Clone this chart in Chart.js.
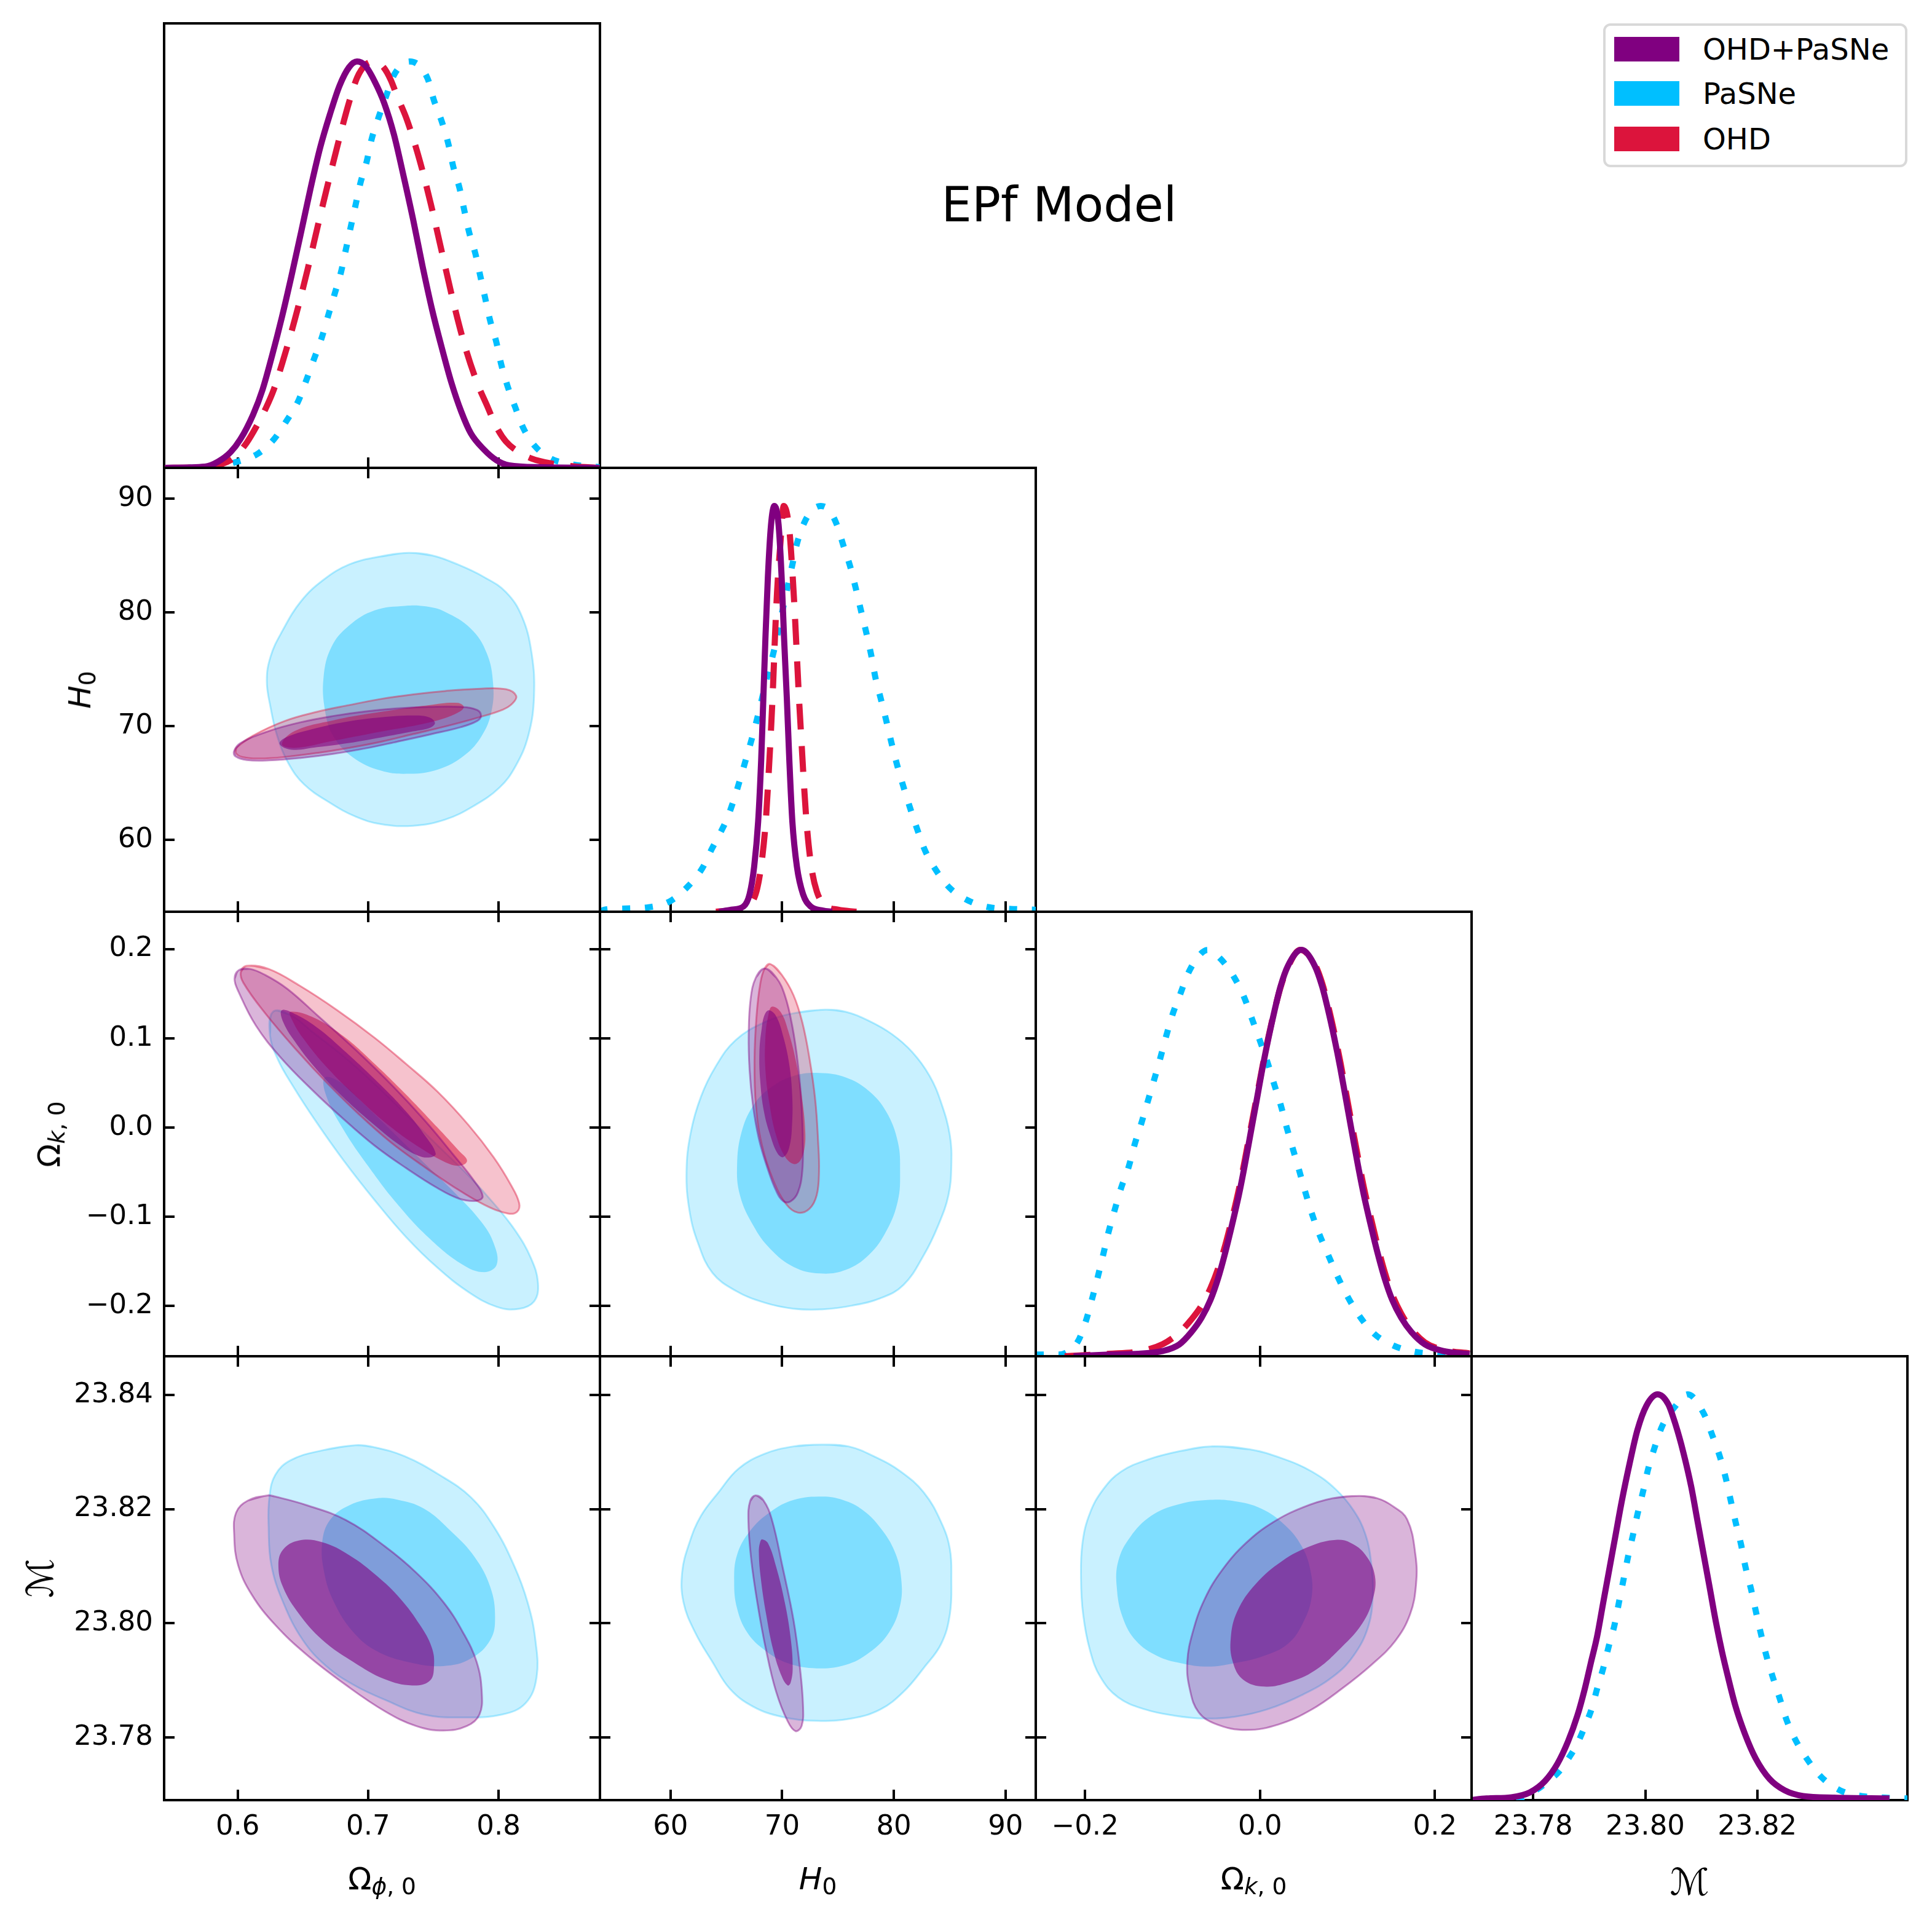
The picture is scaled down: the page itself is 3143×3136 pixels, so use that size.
<!DOCTYPE html>
<html>
<head>
<meta charset="utf-8">
<title>EPf Model</title>
<script src="https://cdn.jsdelivr.net/npm/chart.js@4.4.1/dist/chart.umd.min.js"></script>
<style>
html,body{margin:0;padding:0;background:#fff;}
#fig{position:relative;width:3143px;height:3136px;overflow:hidden;background:#fff;font-family:"DejaVu Sans",sans-serif;color:#000;}
#fig canvas{position:absolute;}
.lab{position:absolute;white-space:nowrap;line-height:1;font-size:50px;font-family:"DejaVu Sans",sans-serif;}
.lab sub{font-size:75%;vertical-align:baseline;position:relative;top:0.22em;line-height:0;}
.lab i{font-style:italic;}
.lab .cal{font-size:60px;font-family:"DejaVu Serif","DejaVu Sans",serif;font-style:italic;}
.rot{transform:translate(-50%,-50%) rotate(-90deg);}
.hor{transform:translateX(-50%);}
#title{position:absolute;font-size:78px;line-height:1;white-space:nowrap;transform:translateX(-50%);font-family:"DejaVu Sans",sans-serif;}
#legend{position:absolute;box-sizing:border-box;border:4px solid #d9d9d9;border-radius:12px;background:#fff;}
.li{position:absolute;left:14px;height:60px;display:flex;align-items:center;font-size:48px;line-height:1;white-space:nowrap;}
.li span.p{display:inline-block;width:106px;height:40px;margin-right:38px;}
</style>
</head>
<body>
<div id="fig"></div>
<script>
// ---------------- axis ranges and ticks ----------------
const phiRange = [0.5436, 0.8777];
const phiTicks = [0.6, 0.7, 0.8];
const phiTickLabels = ['0.6', '0.7', '0.8'];
const h0Range = [53.68, 92.71];
const h0Ticks = [60, 70, 80, 90];
const h0TickLabels = ['60', '70', '80', '90'];
const okRange = [-0.2563, 0.2419];
const okTicksX = [-0.2, 0.0, 0.2];
const okTickLabelsX = ['\u22120.2', '0.0', '0.2'];
const okTicksY = [-0.2, -0.1, 0.0, 0.1, 0.2];
const okTickLabelsY = ['\u22120.2', '\u22120.1', '0.0', '0.1', '0.2'];
const mRange = [23.7690, 23.8468];
const mTicksX = [23.78, 23.80, 23.82];
const mTickLabelsX = ['23.78', '23.80', '23.82'];
const mTicksY = [23.78, 23.80, 23.82, 23.84];
const mTickLabelsY = ['23.78', '23.80', '23.82', '23.84'];
const densRange = [0, 1.094];

// ---------------- series ----------------
const seriesNames = ['OHD+PaSNe', 'PaSNe', 'OHD'];
const seriesColors = ['#800080', '#00bfff', '#dc143c'];

// ---------------- 1D marginals (x, relative density) ----------------
const d1_phi_comb = [[0.5443,0.000],[0.5750,0.003],[0.5848,0.015],[0.5946,0.039],[0.6020,0.070],[0.6118,0.131],[0.6191,0.193],[0.6265,0.278],[0.6339,0.371],[0.6412,0.472],[0.6486,0.580],[0.6560,0.690],[0.6633,0.789],[0.6707,0.870],[0.6780,0.940],[0.6854,0.986],[0.6915,1.000],[0.6977,0.990],[0.7050,0.951],[0.7124,0.897],[0.7198,0.820],[0.7271,0.719],[0.7345,0.611],[0.7418,0.495],[0.7492,0.387],[0.7566,0.294],[0.7639,0.209],[0.7713,0.139],[0.7787,0.085],[0.7885,0.046],[0.7983,0.019],[0.8081,0.006],[0.8326,0.0015],[0.8773,0.000]];
const d1_phi_ohd = [[0.5443,0.000],[0.5750,0.002],[0.5872,0.009],[0.5971,0.025],[0.6069,0.062],[0.6142,0.101],[0.6216,0.147],[0.6277,0.193],[0.6339,0.255],[0.6437,0.364],[0.6535,0.487],[0.6621,0.605],[0.6707,0.719],[0.6805,0.843],[0.6854,0.900],[0.6915,0.960],[0.6980,0.992],[0.7050,1.000],[0.7120,0.985],[0.7173,0.955],[0.7222,0.915],[0.7296,0.858],[0.7394,0.758],[0.7480,0.650],[0.7566,0.530],[0.7652,0.410],[0.7737,0.305],[0.7836,0.209],[0.7909,0.155],[0.7983,0.101],[0.8056,0.065],[0.8155,0.039],[0.8253,0.023],[0.8400,0.011],[0.8572,0.004],[0.8773,0.000]];
const d1_phi_pasne = [[0.5443,0.000],[0.5750,0.001],[0.5872,0.004],[0.5995,0.015],[0.6155,0.035],[0.6277,0.070],[0.6375,0.116],[0.6461,0.162],[0.6523,0.213],[0.6584,0.267],[0.6645,0.321],[0.6694,0.375],[0.6744,0.429],[0.6793,0.483],[0.6829,0.537],[0.6866,0.592],[0.6903,0.646],[0.6940,0.700],[0.6989,0.754],[0.7026,0.808],[0.7075,0.858],[0.7136,0.913],[0.7198,0.967],[0.7320,1.000],[0.7455,0.959],[0.7504,0.905],[0.7566,0.851],[0.7615,0.797],[0.7652,0.742],[0.7701,0.688],[0.7737,0.634],[0.7774,0.580],[0.7823,0.526],[0.7860,0.472],[0.7897,0.418],[0.7934,0.364],[0.7983,0.309],[0.8020,0.255],[0.8069,0.201],[0.8130,0.147],[0.8191,0.097],[0.8277,0.054],[0.8400,0.023],[0.8572,0.008],[0.8773,0.002]];

const d1_h0_comb = [[64.35,0.000],[65.44,0.005],[66.54,0.013],[67.08,0.043],[67.49,0.111],[67.85,0.223],[68.12,0.374],[68.31,0.524],[68.50,0.674],[68.72,0.825],[69.00,0.953],[69.30,1.000],[69.68,0.953],[69.95,0.825],[70.17,0.674],[70.42,0.524],[70.64,0.374],[70.91,0.223],[71.32,0.111],[71.87,0.043],[72.55,0.013],[73.65,0.003],[74.47,0.000]];
const d1_h0_ohd = [[64.07,0.000],[66.26,0.007],[67.22,0.020],[67.77,0.058],[68.18,0.126],[68.53,0.223],[68.78,0.336],[69.00,0.449],[69.19,0.562],[69.35,0.674],[69.54,0.787],[69.82,0.900],[70.14,1.000],[70.63,0.944],[70.91,0.840],[71.13,0.735],[71.32,0.629],[71.51,0.524],[71.73,0.419],[71.95,0.314],[72.22,0.208],[72.61,0.111],[73.10,0.050],[73.78,0.017],[75.01,0.005],[76.65,0.000]];
const d1_h0_pasne = [[53.68,0.000],[54.09,0.005],[56.06,0.008],[58.06,0.011],[59.97,0.026],[61.61,0.064],[62.84,0.107],[63.72,0.156],[64.43,0.193],[65.09,0.231],[65.72,0.280],[66.26,0.329],[66.81,0.381],[67.36,0.434],[67.85,0.486],[68.31,0.539],[68.78,0.592],[69.27,0.644],[69.68,0.697],[70.09,0.750],[70.50,0.802],[70.91,0.855],[71.32,0.907],[72.00,0.960],[72.70,0.990],[73.45,1.000],[74.20,0.990],[74.88,0.955],[75.50,0.901],[76.11,0.849],[76.60,0.796],[77.06,0.742],[77.53,0.688],[77.97,0.633],[78.35,0.577],[78.84,0.524],[79.33,0.470],[79.80,0.415],[80.29,0.362],[80.84,0.310],[81.44,0.257],[82.07,0.205],[82.81,0.150],[83.76,0.103],[84.99,0.059],[86.63,0.028],[88.55,0.011],[90.46,0.007],[92.70,0.005]];

const d1_ok_comb = [[-0.2131,0.000],[-0.1723,0.004],[-0.1382,0.006],[-0.1110,0.013],[-0.0923,0.029],[-0.0786,0.059],[-0.0667,0.095],[-0.0565,0.139],[-0.0480,0.191],[-0.0395,0.257],[-0.0320,0.323],[-0.0242,0.396],[-0.0174,0.470],[-0.0106,0.550],[-0.0037,0.631],[0.0031,0.712],[0.0099,0.785],[0.0167,0.851],[0.0235,0.910],[0.0320,0.961],[0.0473,1.000],[0.0626,0.961],[0.0711,0.910],[0.0780,0.851],[0.0848,0.785],[0.0916,0.712],[0.0984,0.631],[0.1052,0.550],[0.1120,0.470],[0.1188,0.396],[0.1266,0.323],[0.1341,0.257],[0.1426,0.191],[0.1511,0.139],[0.1614,0.095],[0.1733,0.059],[0.1886,0.029],[0.2090,0.013],[0.2397,0.005]];
const d1_ok_ohd = [[-0.2233,0.000],[-0.1723,0.006],[-0.1382,0.012],[-0.1110,0.030],[-0.0923,0.058],[-0.0786,0.090],[-0.0667,0.125],[-0.0565,0.168],[-0.0480,0.215],[-0.0395,0.275],[-0.0320,0.338],[-0.0242,0.410],[-0.0174,0.482],[-0.0106,0.560],[-0.0037,0.638],[0.0031,0.716],[0.0099,0.788],[0.0167,0.852],[0.0235,0.908],[0.0320,0.958],[0.0460,1.000],[0.0626,0.965],[0.0711,0.918],[0.0780,0.862],[0.0848,0.798],[0.0916,0.727],[0.0984,0.648],[0.1052,0.568],[0.1120,0.490],[0.1188,0.415],[0.1266,0.342],[0.1341,0.275],[0.1426,0.207],[0.1511,0.152],[0.1614,0.105],[0.1733,0.066],[0.1886,0.034],[0.2090,0.016],[0.2397,0.007]];
const d1_ok_pasne = [[-0.2563,0.004],[-0.2301,0.004],[-0.2233,0.007],[-0.2080,0.037],[-0.1988,0.088],[-0.1917,0.143],[-0.1852,0.197],[-0.1791,0.251],[-0.1733,0.304],[-0.1661,0.360],[-0.1586,0.415],[-0.1501,0.466],[-0.1433,0.521],[-0.1358,0.572],[-0.1287,0.624],[-0.1212,0.679],[-0.1144,0.730],[-0.1076,0.785],[-0.1001,0.840],[-0.0912,0.891],[-0.0820,0.943],[-0.0684,0.989],[-0.0600,1.000],[-0.0446,0.977],[-0.0293,0.932],[-0.0174,0.880],[-0.0089,0.829],[-0.0003,0.778],[0.0082,0.726],[0.0160,0.671],[0.0235,0.620],[0.0303,0.565],[0.0371,0.514],[0.0446,0.459],[0.0514,0.407],[0.0592,0.352],[0.0677,0.301],[0.0780,0.249],[0.0892,0.194],[0.1001,0.147],[0.1137,0.099],[0.1307,0.055],[0.1529,0.026],[0.1767,0.011],[0.2005,0.006],[0.2329,0.004]];

const d1_m_comb = [[23.7688,0.000],[23.7717,0.004],[23.7761,0.007],[23.7794,0.019],[23.7821,0.047],[23.7843,0.089],[23.7862,0.144],[23.7879,0.209],[23.7892,0.274],[23.7903,0.339],[23.7914,0.403],[23.7925,0.487],[23.7936,0.570],[23.7947,0.653],[23.7958,0.736],[23.7972,0.829],[23.7986,0.912],[23.8002,0.972],[23.8022,1.000],[23.8041,0.976],[23.8054,0.926],[23.8068,0.857],[23.8082,0.773],[23.8093,0.690],[23.8104,0.607],[23.8115,0.524],[23.8126,0.440],[23.8137,0.366],[23.8148,0.302],[23.8161,0.232],[23.8178,0.163],[23.8197,0.103],[23.8222,0.052],[23.8249,0.024],[23.8282,0.010],[23.8337,0.006],[23.8436,0.004]];
const d1_m_pasne = [[23.7688,0.000],[23.7761,0.002],[23.7783,0.007],[23.7810,0.029],[23.7827,0.047],[23.7846,0.070],[23.7865,0.107],[23.7879,0.140],[23.7892,0.181],[23.7905,0.228],[23.7914,0.274],[23.7925,0.325],[23.7935,0.380],[23.7945,0.431],[23.7953,0.487],[23.7961,0.542],[23.7969,0.598],[23.7978,0.653],[23.7986,0.704],[23.7996,0.760],[23.8005,0.815],[23.8016,0.866],[23.8030,0.921],[23.8052,0.968],[23.8076,1.000],[23.8104,0.954],[23.8120,0.898],[23.8134,0.843],[23.8144,0.792],[23.8153,0.736],[23.8162,0.681],[23.8171,0.630],[23.8179,0.574],[23.8189,0.519],[23.8197,0.468],[23.8206,0.413],[23.8216,0.357],[23.8227,0.306],[23.8240,0.251],[23.8253,0.195],[23.8268,0.149],[23.8288,0.103],[23.8315,0.056],[23.8348,0.024],[23.8386,0.010],[23.8427,0.006],[23.8468,0.004]];

// ---------------- 2D contours (68% "in", 95% "out") ----------------
// Omega_phi vs H0
const c_phiH0_pasne_out = [[0.7308,85.23],[0.7075,84.88],[0.6854,84.21],[0.6658,82.87],[0.6486,80.99],[0.6339,78.30],[0.6253,76.15],[0.6223,74.00],[0.6253,71.58],[0.6302,69.17],[0.6388,66.75],[0.6510,64.87],[0.6707,63.26],[0.6903,62.05],[0.7099,61.38],[0.7345,61.24],[0.7590,61.78],[0.7811,62.99],[0.8007,64.60],[0.8130,66.48],[0.8228,69.17],[0.8272,72.66],[0.8253,76.42],[0.8179,79.64],[0.8056,81.79],[0.7885,83.13],[0.7688,84.21],[0.7492,85.01]];
const c_phiH0_pasne_in = [[0.7283,80.58],[0.7050,80.18],[0.6854,78.84],[0.6719,76.96],[0.6658,74.27],[0.6670,71.32],[0.6731,69.17],[0.6879,67.29],[0.7099,66.08],[0.7320,65.81],[0.7541,66.21],[0.7737,67.42],[0.7872,69.17],[0.7946,71.32],[0.7958,73.73],[0.7909,76.42],[0.7787,78.57],[0.7590,80.05],[0.7443,80.53]];
const c_phiH0_ohd_out = [[0.5995,68.15],[0.6118,69.17],[0.6363,70.46],[0.6609,71.26],[0.6854,71.85],[0.7099,72.39],[0.7345,72.79],[0.7590,73.09],[0.7836,73.28],[0.8056,73.25],[0.8135,72.66],[0.8106,71.99],[0.8032,71.45],[0.7836,70.73],[0.7590,69.97],[0.7345,69.30],[0.7099,68.63],[0.6854,68.09],[0.6609,67.64],[0.6363,67.29],[0.6167,67.15],[0.6032,67.29],[0.5983,67.69]];
const c_phiH0_ohd_in = [[0.6339,68.42],[0.6437,69.57],[0.6731,70.51],[0.7099,71.26],[0.7467,71.85],[0.7688,72.04],[0.7733,71.64],[0.7664,71.05],[0.7467,70.32],[0.7099,69.52],[0.6731,68.71],[0.6437,68.09]];
const c_phiH0_comb_out = [[0.5971,67.77],[0.6020,68.50],[0.6240,69.57],[0.6486,70.35],[0.6731,70.89],[0.6977,71.29],[0.7222,71.56],[0.7467,71.69],[0.7713,71.69],[0.7836,71.42],[0.7865,70.91],[0.7836,70.46],[0.7713,69.92],[0.7467,69.25],[0.7222,68.63],[0.6977,68.04],[0.6731,67.56],[0.6486,67.21],[0.6240,66.99],[0.6069,67.02],[0.5983,67.34]];
const c_phiH0_comb_in = [[0.6321,68.44],[0.6375,69.03],[0.6609,69.84],[0.6854,70.43],[0.7099,70.78],[0.7345,70.94],[0.7467,70.78],[0.7512,70.30],[0.7480,69.89],[0.7345,69.54],[0.7099,69.01],[0.6854,68.52],[0.6609,68.15],[0.6412,67.93]];

// Omega_phi vs Omega_k
const c_phiOk_pasne_out = [[0.6271,0.1298],[0.6247,0.1041],[0.6307,0.0766],[0.6427,0.0457],[0.6595,0.0079],[0.6811,-0.0367],[0.7050,-0.0814],[0.7290,-0.1226],[0.7530,-0.1569],[0.7770,-0.1844],[0.7986,-0.2009],[0.8153,-0.2033],[0.8273,-0.1947],[0.8302,-0.1741],[0.8249,-0.1466],[0.8129,-0.1157],[0.7962,-0.0848],[0.7770,-0.0539],[0.7530,-0.0196],[0.7290,0.0148],[0.7050,0.0491],[0.6811,0.0800],[0.6571,0.1075],[0.6403,0.1264]];
const c_phiOk_pasne_in = [[0.6667,0.0560],[0.6679,0.0354],[0.6811,-0.0024],[0.7002,-0.0436],[0.7218,-0.0848],[0.7458,-0.1226],[0.7722,-0.1535],[0.7890,-0.1621],[0.7986,-0.1535],[0.7962,-0.1295],[0.7866,-0.1054],[0.7674,-0.0745],[0.7434,-0.0402],[0.7194,-0.0058],[0.6954,0.0285],[0.6787,0.0508]];
const c_phiOk_ohd_out = [[0.6067,0.1813],[0.6235,0.1779],[0.6475,0.1590],[0.6763,0.1315],[0.7050,0.1006],[0.7290,0.0714],[0.7530,0.0405],[0.7770,0.0027],[0.7962,-0.0333],[0.8094,-0.0642],[0.8158,-0.0848],[0.8141,-0.0944],[0.8070,-0.0962],[0.7890,-0.0865],[0.7650,-0.0659],[0.7410,-0.0419],[0.7170,-0.0161],[0.6930,0.0148],[0.6691,0.0491],[0.6451,0.0869],[0.6211,0.1281],[0.6043,0.1624],[0.6024,0.1745]];
const c_phiOk_ohd_in = [[0.6403,0.1298],[0.6571,0.1240],[0.6811,0.1023],[0.7050,0.0714],[0.7290,0.0371],[0.7530,0.0003],[0.7698,-0.0264],[0.7758,-0.0367],[0.7722,-0.0422],[0.7626,-0.0409],[0.7410,-0.0237],[0.7170,0.0010],[0.6930,0.0319],[0.6691,0.0663],[0.6499,0.1006],[0.6415,0.1212]];
const c_phiOk_comb_out = [[0.6007,0.1762],[0.6091,0.1779],[0.6211,0.1710],[0.6379,0.1556],[0.6619,0.1247],[0.6906,0.0869],[0.7194,0.0457],[0.7434,0.0079],[0.7650,-0.0299],[0.7818,-0.0608],[0.7878,-0.0773],[0.7830,-0.0821],[0.7698,-0.0797],[0.7530,-0.0677],[0.7290,-0.0453],[0.7050,-0.0203],[0.6811,0.0096],[0.6571,0.0422],[0.6331,0.0783],[0.6139,0.1144],[0.6007,0.1521],[0.5976,0.1666]];
const c_phiOk_comb_in = [[0.6338,0.1315],[0.6451,0.1264],[0.6619,0.1109],[0.6811,0.0869],[0.7050,0.0543],[0.7290,0.0182],[0.7446,-0.0110],[0.7518,-0.0292],[0.7477,-0.0333],[0.7386,-0.0316],[0.7242,-0.0196],[0.7050,0.0027],[0.6811,0.0337],[0.6619,0.0628],[0.6451,0.0938],[0.6350,0.1178]];

// H0 vs Omega_k
const c_h0Ok_pasne_out = [[73.87,0.1321],[71.02,0.1281],[68.43,0.1181],[65.83,0.0980],[64.02,0.0679],[62.72,0.0344],[61.81,-0.0057],[61.43,-0.0492],[61.69,-0.0926],[62.46,-0.1294],[63.76,-0.1629],[65.83,-0.1829],[68.43,-0.1963],[71.02,-0.2030],[73.61,-0.2037],[76.20,-0.1997],[78.80,-0.1913],[80.87,-0.1763],[82.69,-0.1428],[83.98,-0.1094],[84.89,-0.0759],[85.15,-0.0425],[85.02,-0.0090],[84.24,0.0278],[83.20,0.0579],[81.65,0.0846],[79.83,0.1047],[77.76,0.1197],[75.69,0.1298]];
const c_h0Ok_pasne_in = [[73.35,0.0612],[71.02,0.0579],[68.94,0.0445],[67.39,0.0244],[66.35,-0.0057],[65.96,-0.0425],[66.22,-0.0759],[67.39,-0.1094],[68.94,-0.1361],[71.02,-0.1562],[73.35,-0.1635],[75.69,-0.1595],[77.76,-0.1428],[79.32,-0.1161],[80.35,-0.0826],[80.56,-0.0492],[80.35,-0.0157],[79.32,0.0177],[77.76,0.0411],[75.69,0.0562]];
const c_h0Ok_ohd_out = [[68.94,0.1833],[69.98,0.1709],[71.02,0.1482],[71.80,0.1181],[72.44,0.0779],[72.96,0.0311],[73.22,-0.0157],[73.30,-0.0492],[73.09,-0.0759],[72.44,-0.0910],[71.41,-0.0953],[70.37,-0.0860],[69.20,-0.0592],[68.17,-0.0191],[67.65,0.0244],[67.52,0.0746],[67.70,0.1247],[68.04,0.1615],[68.43,0.1783]];
const c_h0Ok_ohd_in = [[69.07,0.1355],[69.85,0.1298],[70.55,0.1080],[71.28,0.0712],[71.80,0.0311],[72.06,-0.0023],[72.00,-0.0231],[71.59,-0.0375],[71.02,-0.0408],[70.24,-0.0324],[69.46,-0.0090],[68.89,0.0244],[68.50,0.0645],[68.50,0.1013],[68.74,0.1247]];
const c_h0Ok_comb_out = [[68.43,0.1783],[69.46,0.1682],[70.24,0.1482],[70.89,0.1147],[71.41,0.0712],[71.74,0.0244],[71.85,-0.0157],[71.80,-0.0492],[71.41,-0.0726],[70.76,-0.0826],[70.11,-0.0826],[69.46,-0.0709],[68.69,-0.0458],[67.91,-0.0124],[67.39,0.0244],[67.08,0.0645],[67.00,0.1047],[67.18,0.1448],[67.65,0.1682]];
const c_h0Ok_comb_in = [[68.82,0.1314],[69.46,0.1247],[70.11,0.1013],[70.63,0.0712],[70.89,0.0378],[70.89,0.0043],[70.63,-0.0224],[70.11,-0.0331],[69.59,-0.0291],[68.94,-0.0090],[68.37,0.0177],[68.04,0.0512],[67.96,0.0846],[68.17,0.1114],[68.43,0.1264]];

// Omega_phi vs M
const c_phiM_pasne_out = [[0.6903,23.8312],[0.6648,23.8303],[0.6408,23.8286],[0.6288,23.8260],[0.6243,23.8221],[0.6237,23.8168],[0.6258,23.8102],[0.6348,23.8037],[0.6498,23.7971],[0.6678,23.7925],[0.6888,23.7892],[0.7127,23.7866],[0.7427,23.7840],[0.7727,23.7835],[0.8027,23.7840],[0.8207,23.7860],[0.8291,23.7905],[0.8282,23.7971],[0.8222,23.8037],[0.8117,23.8102],[0.7967,23.8168],[0.7787,23.8221],[0.7547,23.8260],[0.7277,23.8293],[0.7037,23.8309]];
const c_phiM_pasne_in = [[0.7067,23.8219],[0.6858,23.8207],[0.6708,23.8181],[0.6648,23.8142],[0.6663,23.8089],[0.6738,23.8037],[0.6888,23.7984],[0.7067,23.7951],[0.7307,23.7932],[0.7577,23.7925],[0.7787,23.7938],[0.7937,23.7971],[0.7973,23.8010],[0.7937,23.8063],[0.7817,23.8116],[0.7637,23.8161],[0.7427,23.8201],[0.7217,23.8217]];
const c_phiM_comb_out = [[0.6228,23.8224],[0.6078,23.8215],[0.5988,23.8194],[0.5973,23.8155],[0.6003,23.8102],[0.6108,23.8050],[0.6288,23.7997],[0.6528,23.7945],[0.6828,23.7892],[0.7127,23.7846],[0.7367,23.7820],[0.7577,23.7812],[0.7757,23.7820],[0.7853,23.7840],[0.7871,23.7879],[0.7832,23.7932],[0.7727,23.7984],[0.7577,23.8037],[0.7367,23.8089],[0.7127,23.8135],[0.6828,23.8181],[0.6528,23.8207],[0.6288,23.8222]];
const c_phiM_comb_in = [[0.6468,23.8145],[0.6348,23.8129],[0.6312,23.8102],[0.6348,23.8063],[0.6468,23.8017],[0.6648,23.7971],[0.6888,23.7932],[0.7127,23.7902],[0.7337,23.7891],[0.7472,23.7899],[0.7505,23.7925],[0.7487,23.7958],[0.7397,23.7997],[0.7247,23.8043],[0.7067,23.8083],[0.6858,23.8119],[0.6648,23.8142]];

// H0 vs M
const c_h0M_pasne_out = [[73.61,23.8313],[71.02,23.8310],[68.43,23.8297],[66.09,23.8271],[64.28,23.8229],[62.72,23.8188],[61.69,23.8141],[61.04,23.8089],[61.17,23.8036],[62.20,23.7984],[63.76,23.7932],[65.32,23.7885],[67.39,23.7854],[69.98,23.7836],[73.09,23.7829],[76.20,23.7833],[78.80,23.7849],[80.87,23.7880],[82.69,23.7922],[84.24,23.7964],[85.02,23.8016],[85.15,23.8078],[85.02,23.8130],[84.24,23.8177],[82.69,23.8229],[80.61,23.8266],[78.28,23.8292],[75.94,23.8310]];
const c_h0M_pasne_in = [[73.61,23.8222],[71.02,23.8216],[68.94,23.8195],[67.13,23.8162],[65.96,23.8120],[65.70,23.8073],[65.96,23.8026],[66.87,23.7984],[68.43,23.7953],[70.50,23.7930],[73.09,23.7921],[75.69,23.7927],[77.76,23.7948],[79.57,23.7984],[80.56,23.8031],[80.66,23.8078],[80.09,23.8125],[78.80,23.8167],[77.24,23.8198],[75.43,23.8216]];
const c_h0M_comb_out = [[67.60,23.8224],[68.30,23.8216],[69.07,23.8182],[70.03,23.8099],[71.02,23.8005],[71.59,23.7922],[71.87,23.7854],[71.74,23.7820],[71.20,23.7811],[70.50,23.7828],[69.46,23.7880],[68.56,23.7953],[67.78,23.8036],[67.21,23.8115],[66.97,23.8182],[67.13,23.8214]];
const c_h0M_comb_in = [[68.22,23.8147],[68.74,23.8140],[69.46,23.8099],[70.24,23.8036],[70.76,23.7974],[70.94,23.7922],[70.76,23.7896],[70.50,23.7891],[69.98,23.7906],[69.20,23.7953],[68.56,23.8016],[68.09,23.8078],[67.91,23.8125],[68.04,23.8143]];

// Omega_k vs M
const c_okM_pasne_out = [[-0.0565,23.8310],[-0.0906,23.8302],[-0.1280,23.8287],[-0.1586,23.8266],[-0.1791,23.8235],[-0.1944,23.8193],[-0.2029,23.8141],[-0.2046,23.8078],[-0.2022,23.8016],[-0.1944,23.7953],[-0.1825,23.7906],[-0.1620,23.7870],[-0.1314,23.7849],[-0.0974,23.7838],[-0.0633,23.7833],[-0.0293,23.7836],[0.0082,23.7849],[0.0490,23.7875],[0.0831,23.7906],[0.1069,23.7943],[0.1239,23.7995],[0.1290,23.8052],[0.1273,23.8104],[0.1205,23.8156],[0.1069,23.8198],[0.0865,23.8235],[0.0592,23.8266],[0.0252,23.8289],[-0.0123,23.8305]];
const c_okM_pasne_in = [[-0.0599,23.8216],[-0.0940,23.8208],[-0.1246,23.8188],[-0.1484,23.8151],[-0.1620,23.8109],[-0.1637,23.8063],[-0.1569,23.8010],[-0.1416,23.7969],[-0.1178,23.7943],[-0.0906,23.7930],[-0.0599,23.7924],[-0.0293,23.7930],[0.0048,23.7943],[0.0320,23.7964],[0.0490,23.8000],[0.0592,23.8047],[0.0575,23.8094],[0.0473,23.8136],[0.0286,23.8172],[0.0014,23.8201],[-0.0293,23.8214]];
const c_okM_comb_out = [[0.1137,23.8223],[0.0831,23.8219],[0.0490,23.8203],[0.0150,23.8177],[-0.0157,23.8141],[-0.0429,23.8094],[-0.0633,23.8042],[-0.0769,23.7984],[-0.0831,23.7932],[-0.0803,23.7885],[-0.0701,23.7844],[-0.0497,23.7823],[-0.0157,23.7813],[0.0218,23.7823],[0.0592,23.7849],[0.0933,23.7885],[0.1273,23.7927],[0.1546,23.7969],[0.1716,23.8016],[0.1784,23.8068],[0.1777,23.8120],[0.1682,23.8182],[0.1511,23.8206],[0.1341,23.8219]];
const c_okM_comb_in = [[0.0865,23.8146],[0.0592,23.8136],[0.0252,23.8109],[-0.0054,23.8068],[-0.0259,23.8021],[-0.0334,23.7974],[-0.0310,23.7932],[-0.0191,23.7901],[0.0048,23.7889],[0.0320,23.7896],[0.0626,23.7917],[0.0933,23.7958],[0.1171,23.8000],[0.1290,23.8042],[0.1314,23.8083],[0.1205,23.8120],[0.1035,23.8141]];

// ---------------- layout (pixels) ----------------
const FONT = 'DejaVu Sans';
const PAD = {l: 200, r: 80, t: 90, b: 110};
const COL_L = [267, 976, 1685, 2394, 3103];
const ROW_T = [38, 761, 1483, 2206, 2928];

const AX = {
  phi:  {range: phiRange, tx: phiTicks, lx: phiTickLabels, ty: phiTicks, ly: phiTickLabels},
  h0:   {range: h0Range, tx: h0Ticks, lx: h0TickLabels, ty: h0Ticks, ly: h0TickLabels},
  ok:   {range: okRange, tx: okTicksX, lx: okTickLabelsX, ty: okTicksY, ly: okTickLabelsY},
  m:    {range: mRange, tx: mTicksX, lx: mTickLabelsX, ty: mTicksY, ly: mTickLabelsY},
  dens: {range: densRange, tx: [0, 1], lx: ['', ''], ty: [0, 1], ly: ['', '']}
};

const RGB = {comb: [128, 0, 128], pasne: [0, 191, 255], ohd: [220, 20, 60]};
const ALPHA = {comb: {out: 0.29, inn: 0.59, edge: 0.42}, pasne: {out: 0.21, inn: 0.37, edge: 0.28}, ohd: {out: 0.26, inn: 0.53, edge: 0.42}};
const ZORD = {comb: 0, ohd: 2, pasne: 4};
const rgba = (c, a) => `rgba(${c[0]},${c[1]},${c[2]},${a})`;

function toXY(a) { return a.map(p => ({x: p[0], y: p[1]})); }
// repeat neighbours so the spline closes smoothly
function closedPath(a) { const n = a.length; return toXY([a[n - 1], ...a, a[0], a[1]]); }

function contour(series, outer, arr) {
  const c = RGB[series], al = ALPHA[series];
  return {
    data: closedPath(arr), showLine: true, fill: 'shape', tension: 0.4,
    backgroundColor: rgba(c, outer ? al.out : al.inn),
    borderColor: outer ? rgba(c, al.edge) : 'rgba(0,0,0,0)',
    borderWidth: outer ? 3 : 0,
    pointRadius: 0, pointHoverRadius: 0, pointHitRadius: 0,
    order: ZORD[series] + (outer ? 2 : 1)
  };
}
const DASH = {comb: [], ohd: [42, 27], pasne: [13, 24]};
const CORD = {comb: 1, ohd: 2, pasne: 3};
function curve(series, arr) {
  return {
    data: toXY(arr), showLine: true, fill: false,
    borderColor: rgba(RGB[series], 1), borderWidth: 10, borderDash: DASH[series],
    borderCapStyle: 'butt', borderJoinStyle: 'round', cubicInterpolationMode: 'monotone',
    pointRadius: 0, pointHoverRadius: 0, pointHitRadius: 0, order: CORD[series]
  };
}

function mkScale(def, vals, labs, position, ticksOn, labelsOn) {
  const horiz = position === 'bottom' || position === 'top';
  return {
    type: 'linear', position, min: def.range[0], max: def.range[1], bounds: 'data', grace: 0, z: 1,
    afterBuildTicks: s => { s.ticks = vals.map(v => ({value: v})); },
    afterFit: s => {
      if (horiz) s.height = position === 'bottom' ? PAD.b : PAD.t;
      else s.width = position === 'left' ? PAD.l : PAD.r;
    },
    ticks: {display: labelsOn, autoSkip: false, maxRotation: 0, minRotation: 0,
      padding: horiz ? 34 : 35, color: '#000', font: {family: FONT, size: 45},
      callback: (v, i) => labs[i]},
    grid: {display: true, drawOnChartArea: false, drawTicks: ticksOn, tickLength: -17,
      tickWidth: 4, tickColor: '#000', lineWidth: 4, color: '#000', offset: false},
    border: {display: true, color: '#000', width: 4}
  };
}

const fig = document.getElementById('fig');

function makePanel(r, c, xDef, yDef, datasets, diag) {
  const w = COL_L[c + 1] - COL_L[c] + PAD.l + PAD.r;
  const h = ROW_T[r + 1] - ROW_T[r] + PAD.t + PAD.b;
  const cv = document.createElement('canvas');
  cv.width = w; cv.height = h;
  cv.style.width = w + 'px'; cv.style.height = h + 'px';
  cv.style.left = (COL_L[c] - PAD.l) + 'px';
  cv.style.top = (ROW_T[r] - PAD.t) + 'px';
  fig.appendChild(cv);
  const bottomRow = r === 3, leftCol = c === 0;
  new Chart(cv, {
    type: 'scatter',
    data: {datasets},
    options: {
      responsive: false, animation: false, devicePixelRatio: 1, events: [],
      layout: {padding: 0},
      plugins: {legend: {display: false}, tooltip: {enabled: false}, title: {display: false}},
      scales: {
        x:  mkScale(xDef, xDef.tx, xDef.lx, 'bottom', true, bottomRow),
        x2: mkScale(xDef, xDef.tx, xDef.lx, 'top', !diag, false),
        y:  mkScale(yDef, yDef.ty, yDef.ly, 'left', !diag, leftCol && !diag),
        y2: mkScale(yDef, yDef.ty, yDef.ly, 'right', !diag, false)
      }
    }
  });
}

// diagonal
makePanel(0, 0, AX.phi, AX.dens, [curve('pasne', d1_phi_pasne), curve('ohd', d1_phi_ohd), curve('comb', d1_phi_comb)], true);
makePanel(1, 1, AX.h0, AX.dens, [curve('pasne', d1_h0_pasne), curve('ohd', d1_h0_ohd), curve('comb', d1_h0_comb)], true);
makePanel(2, 2, AX.ok, AX.dens, [curve('pasne', d1_ok_pasne), curve('ohd', d1_ok_ohd), curve('comb', d1_ok_comb)], true);
makePanel(3, 3, AX.m, AX.dens, [curve('pasne', d1_m_pasne), curve('comb', d1_m_comb)], true);
// off-diagonal
makePanel(1, 0, AX.phi, AX.h0, [
  contour('pasne', true, c_phiH0_pasne_out), contour('pasne', false, c_phiH0_pasne_in),
  contour('ohd', true, c_phiH0_ohd_out), contour('ohd', false, c_phiH0_ohd_in),
  contour('comb', true, c_phiH0_comb_out), contour('comb', false, c_phiH0_comb_in)], false);
makePanel(2, 0, AX.phi, AX.ok, [
  contour('pasne', true, c_phiOk_pasne_out), contour('pasne', false, c_phiOk_pasne_in),
  contour('ohd', true, c_phiOk_ohd_out), contour('ohd', false, c_phiOk_ohd_in),
  contour('comb', true, c_phiOk_comb_out), contour('comb', false, c_phiOk_comb_in)], false);
makePanel(2, 1, AX.h0, AX.ok, [
  contour('pasne', true, c_h0Ok_pasne_out), contour('pasne', false, c_h0Ok_pasne_in),
  contour('ohd', true, c_h0Ok_ohd_out), contour('ohd', false, c_h0Ok_ohd_in),
  contour('comb', true, c_h0Ok_comb_out), contour('comb', false, c_h0Ok_comb_in)], false);
makePanel(3, 0, AX.phi, AX.m, [
  contour('pasne', true, c_phiM_pasne_out), contour('pasne', false, c_phiM_pasne_in),
  contour('comb', true, c_phiM_comb_out), contour('comb', false, c_phiM_comb_in)], false);
makePanel(3, 1, AX.h0, AX.m, [
  contour('pasne', true, c_h0M_pasne_out), contour('pasne', false, c_h0M_pasne_in),
  contour('comb', true, c_h0M_comb_out), contour('comb', false, c_h0M_comb_in)], false);
makePanel(3, 2, AX.ok, AX.m, [
  contour('pasne', true, c_okM_pasne_out), contour('pasne', false, c_okM_pasne_in),
  contour('comb', true, c_okM_comb_out), contour('comb', false, c_okM_comb_in)], false);

// ---------------- text: axis labels, title, legend ----------------
const xLabels = ['\u03A9<sub><i>\u03D5</i>, 0</sub>', '<i>H</i><sub>0</sub>', '\u03A9<sub><i>k</i>, 0</sub>', '<span class="cal">\u2133</span>'];
const yLabels = [null, '<i>H</i><sub>0</sub>', '\u03A9<sub><i>k</i>, 0</sub>', '<span class="cal">\u2133</span>'];
const yLabelX = [0, 130, 80, 65];

xLabels.forEach((t, c) => {
  const d = document.createElement('div');
  d.className = 'lab hor';
  d.innerHTML = t;
  d.style.left = ((COL_L[c] + COL_L[c + 1]) / 2) + 'px';
  d.style.top = '3031px';
  fig.appendChild(d);
});
yLabels.forEach((t, r) => {
  if (!t) return;
  const d = document.createElement('div');
  d.className = 'lab rot';
  d.innerHTML = t;
  d.style.left = yLabelX[r] + 'px';
  d.style.top = ((ROW_T[r] + ROW_T[r + 1]) / 2) + 'px';
  fig.appendChild(d);
});

const title = document.createElement('div');
title.id = 'title';
title.textContent = 'EPf Model';
title.style.left = '1723px';
title.style.top = '294px';
fig.appendChild(title);

const leg = document.createElement('div');
leg.id = 'legend';
leg.style.left = '2608px'; leg.style.top = '38px';
leg.style.width = '495px'; leg.style.height = '234px';
const legCenters = [80, 152, 226];
seriesNames.forEach((name, i) => {
  const it = document.createElement('div');
  it.className = 'li';
  it.style.top = (legCenters[i] - 38 - 4 - 30) + 'px';
  const p = document.createElement('span');
  p.className = 'p';
  p.style.background = seriesColors[i];
  it.appendChild(p);
  const s = document.createElement('span');
  s.textContent = name;
  it.appendChild(s);
  leg.appendChild(it);
});
fig.appendChild(leg);
</script>
</body>
</html>
